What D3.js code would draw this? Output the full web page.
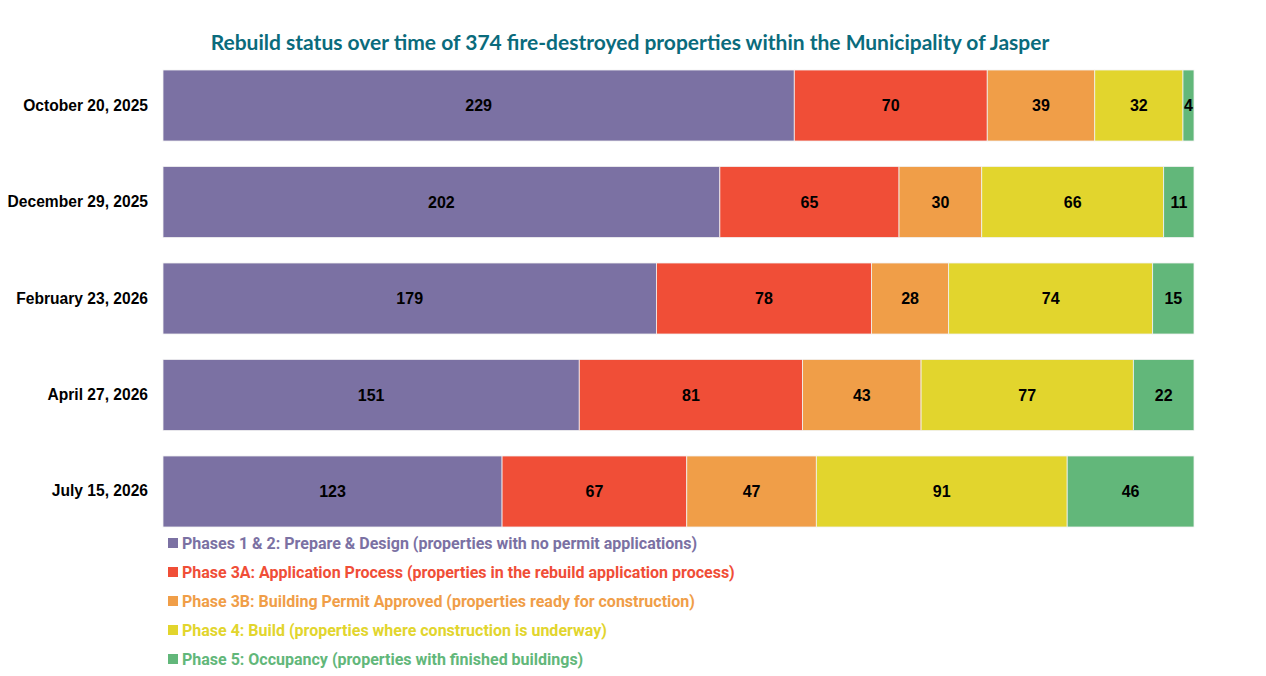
<!DOCTYPE html>
<html>
<head>
<meta charset="utf-8">
<script src="https://cdn.jsdelivr.net/npm/d3@7"></script>
<style>
  body { margin: 0; background: #fff; }
  svg { display: block; }
</style>
</head>
<body>
<div id="chart"></div>
<script>
// dates down the side, one row per survey
const dates = ["October 20, 2025", "December 29, 2025", "February 23, 2026", "April 27, 2026", "July 15, 2026"];

// phases, in stack order
const phases = [
  "Phases 1 & 2: Prepare & Design (properties with no permit applications)",
  "Phase 3A: Application Process (properties in the rebuild application process)",
  "Phase 3B: Building Permit Approved (properties ready for construction)",
  "Phase 4: Build (properties where construction is underway)",
  "Phase 5: Occupancy (properties with finished buildings)"
];
const colors = ["#7b71a3", "#f04e37", "#f09e48", "#e2d52d", "#62b77a"];

// counts per phase, one value per date
const prepareDesign = [229, 202, 179, 151, 123];
const applicationProcess = [70, 65, 78, 81, 67];
const permitApproved = [39, 30, 28, 43, 47];
const build = [32, 66, 74, 77, 91];
const occupancy = [4, 11, 15, 22, 46];

const total = 374;
const keys = ["p12", "p3a", "p3b", "p4", "p5"];
const series = [prepareDesign, applicationProcess, permitApproved, build, occupancy];

const rows = dates.map((d, i) => {
  const r = { date: d };
  keys.forEach((k, j) => r[k] = series[j][i]);
  return r;
});

const width = 1266, height = 676;
const margin = { top: 70, left: 163, right: 72, bottom: 149 };

const svg = d3.select("#chart").append("svg")
  .attr("width", width)
  .attr("height", height);

svg.append("text")
  .attr("x", 630)
  .attr("y", 50)
  .attr("text-anchor", "middle")
  .style("font", "bold 21px Lato, sans-serif")
  .style("fill", "#0a6b7c")
  .text("Rebuild status over time of 374 fire-destroyed properties within the Municipality of Jasper");

const x = d3.scaleLinear()
  .domain([0, total])
  .range([margin.left, width - margin.right]);

const y = d3.scaleBand()
  .domain(dates)
  .range([margin.top, height - margin.bottom])
  .paddingInner(0.264)
  .paddingOuter(0);

const stacked = d3.stack().keys(keys)(rows);

const layer = svg.selectAll("g.layer")
  .data(stacked)
  .join("g")
  .attr("class", "layer")
  .attr("fill", (d, i) => colors[i]);

layer.selectAll("rect")
  .data(d => d)
  .join("rect")
  .attr("x", d => x(d[0]))
  .attr("y", d => y(d.data.date))
  .attr("width", d => x(d[1]) - x(d[0]))
  .attr("height", y.bandwidth())
  .attr("stroke", "#f2f2f2")
  .attr("stroke-width", 0.8);

layer.selectAll("text")
  .data(d => d)
  .join("text")
  .attr("x", d => (x(d[0]) + x(d[1])) / 2)
  .attr("y", d => y(d.data.date) + y.bandwidth() / 2)
  .attr("dy", "0.36em")
  .attr("text-anchor", "middle")
  .style("font", "bold 16px 'Liberation Sans', Arial, sans-serif")
  .style("fill", "#000")
  .text(d => d[1] - d[0]);

// date labels
const yAxis = svg.append("g")
  .attr("transform", `translate(${margin.left},0)`)
  .call(d3.axisLeft(y).tickSize(0).tickPadding(15));
yAxis.select(".domain").remove();
yAxis.selectAll("text")
  .style("font", "bold 15.6px 'Liberation Sans', Arial, sans-serif")
  .style("fill", "#000");

// legend
const legend = svg.selectAll("g.legend")
  .data(phases)
  .join("g")
  .attr("class", "legend")
  .attr("transform", (d, i) => `translate(168,${543 + i * 29})`);

legend.append("rect")
  .attr("x", 0)
  .attr("y", -5)
  .attr("width", 10)
  .attr("height", 10)
  .attr("fill", (d, i) => colors[i]);

legend.append("text")
  .attr("x", 14)
  .attr("dy", "0.36em")
  .style("font", "bold 16px Roboto, sans-serif")
  .style("fill", (d, i) => colors[i])
  .text(d => d);
</script>
</body>
</html>
